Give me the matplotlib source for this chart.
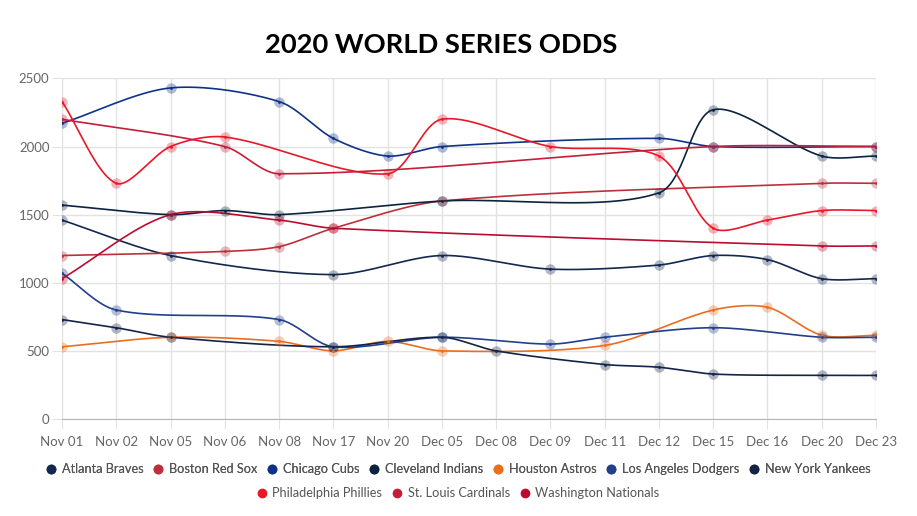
import numpy as np
import matplotlib
matplotlib.use('Agg')
import matplotlib.pyplot as plt
from matplotlib.lines import Line2D

plt.rcParams['font.family'] = ['Lato', 'DejaVu Sans']

categories = ['Nov 01', 'Nov 02', 'Nov 05', 'Nov 06', 'Nov 08', 'Nov 17', 'Nov 20', 'Dec 05',
              'Dec 08', 'Dec 09', 'Dec 11', 'Dec 12', 'Dec 15', 'Dec 16', 'Dec 20', 'Dec 23']

# odds per team, None = no quote that day (line spans the gap)
N = None
atlanta = [1460, N, 1200, N, N, 1060, N, 1200, N, 1100, N, 1130, 1200, 1170, 1030, 1030]
boston = [1200, N, N, 1230, 1265, 1400, N, 1600, N, N, N, N, N, N, 1730, 1730]
cubs = [2170, N, 2430, N, 2330, 2060, 1930, 2000, N, N, N, 2060, 2000, N, N, 2000]
cleveland = [1570, N, 1500, 1530, 1500, N, N, 1600, N, N, N, 1660, 2270, N, 1930, 1930]
astros = [530, N, 600, N, 570, 500, 570, 500, N, N, 540, N, 800, 820, 615, 615]
dodgers = [1070, 800, N, N, 730, 530, N, 600, N, 550, 600, N, 670, N, 600, 600]
yankees = [730, 670, 600, N, N, 530, N, 600, 500, N, 400, 380, 330, N, 320, 320]
phillies = [2330, 1730, 2000, 2070, N, N, 1800, 2200, N, 2000, N, 1930, 1400, 1460, 1530, 1530]
cardinals = [2200, N, N, 2000, 1800, N, N, N, N, N, N, N, 2000, N, N, 2000]
nationals = [1030, N, 1500, N, 1460, 1400, N, N, N, N, N, N, N, N, 1270, 1270]

teams = ['Atlanta Braves', 'Boston Red Sox', 'Chicago Cubs', 'Cleveland Indians', 'Houston Astros',
         'Los Angeles Dodgers', 'New York Yankees', 'Philadelphia Phillies', 'St. Louis Cardinals',
         'Washington Nationals']
series = [atlanta, boston, cubs, cleveland, astros, dodgers, yankees, phillies, cardinals, nationals]
colors = ['#13274F', '#BD3039', '#0E3386', '#0C2340', '#EB6E1F', '#233E8B', '#132448',
          '#E81828', '#C41E3A', '#BA0C2F']


def smooth(ax, xs, ys, tension=0.3, steps=40):
    # bezier smoothing like chart.js, computed in pixel space
    pts = ax.transData.transform(np.column_stack([xs, ys]))
    n = len(pts)
    cp_in, cp_out = [], []
    for i in range(n):
        cur = pts[i]
        prev = pts[i - 1] if i > 0 else cur
        nxt = pts[i + 1] if i < n - 1 else cur
        d01 = np.hypot(*(cur - prev))
        d12 = np.hypot(*(nxt - cur))
        tot = d01 + d12
        s01 = d01 / tot if tot else 0
        s12 = d12 / tot if tot else 0
        cp_in.append(cur - tension * s01 * (nxt - prev))
        cp_out.append(cur + tension * s12 * (nxt - prev))
    t = np.linspace(0, 1, steps)[:, None]
    out = []
    for i in range(n - 1):
        p0, p1, p2, p3 = pts[i], cp_out[i], cp_in[i + 1], pts[i + 1]
        seg = ((1 - t) ** 3) * p0 + 3 * ((1 - t) ** 2) * t * p1 + 3 * (1 - t) * t ** 2 * p2 + t ** 3 * p3
        out.append(seg)
    out = np.vstack(out)
    return ax.transData.inverted().transform(out)


fig = plt.figure(figsize=(9.17, 5.16), dpi=100)
ax = fig.add_axes([62 / 917, 1 - 419 / 516, (876 - 62) / 917, (419 - 78.4) / 516])
ax.set_xlim(0, len(categories) - 1)
ax.set_ylim(0, 2500)

for name, vals, col in zip(teams, series, colors):
    xs = [i for i, v in enumerate(vals) if v is not None]
    ys = [v for v in vals if v is not None]
    curve = smooth(ax, xs, ys)
    ax.plot(curve[:, 0], curve[:, 1], color=col, lw=1.2, zorder=3, solid_capstyle='round')
    ax.plot(xs, ys, 'o', ms=7.5, color=col, alpha=0.33, mec='none', zorder=4)
    ax.plot(xs, ys, 'o', ms=2, color=col, mec='none', zorder=5)

ax.set_xticks(range(len(categories)))
ax.set_xticklabels(categories)
ax.set_yticks([0, 500, 1000, 1500, 2000, 2500])
ax.grid(True, color='#e2e2e2', lw=1, zorder=0)
ax.set_axisbelow(True)
for s in ['top', 'right', 'left']:
    ax.spines[s].set_visible(False)
ax.spines['bottom'].set_color('#b5b5b5')
ax.tick_params(axis='both', colors='#e2e2e2', labelcolor='#666666', labelsize=9.5, length=7)
ax.tick_params(axis='x', pad=5)
ax.tick_params(axis='y', pad=2)

fig.text(441 / 917, 1 - 45 / 516, '2020 WORLD SERIES ODDS', ha='center', va='center',
         fontsize=19.7, fontweight='bold', color='black')

handles = [Line2D([], [], ls='none', marker='o', ms=6, color=c) for c in colors]
leg_kw = dict(loc='center', frameon=False, fontsize=9.2, handletextpad=0.45, columnspacing=0.75,
              handlelength=0.8, labelcolor='#555555', borderpad=0, borderaxespad=0)
leg1 = fig.legend(handles[:7], teams[:7], bbox_to_anchor=(458 / 917, 1 - 469 / 516), ncol=7, **leg_kw)
fig.add_artist(leg1)
fig.legend(handles[7:], teams[7:], bbox_to_anchor=(458 / 917, 1 - 493 / 516), ncol=3, **leg_kw)

fig.savefig('out.png', dpi=100)
